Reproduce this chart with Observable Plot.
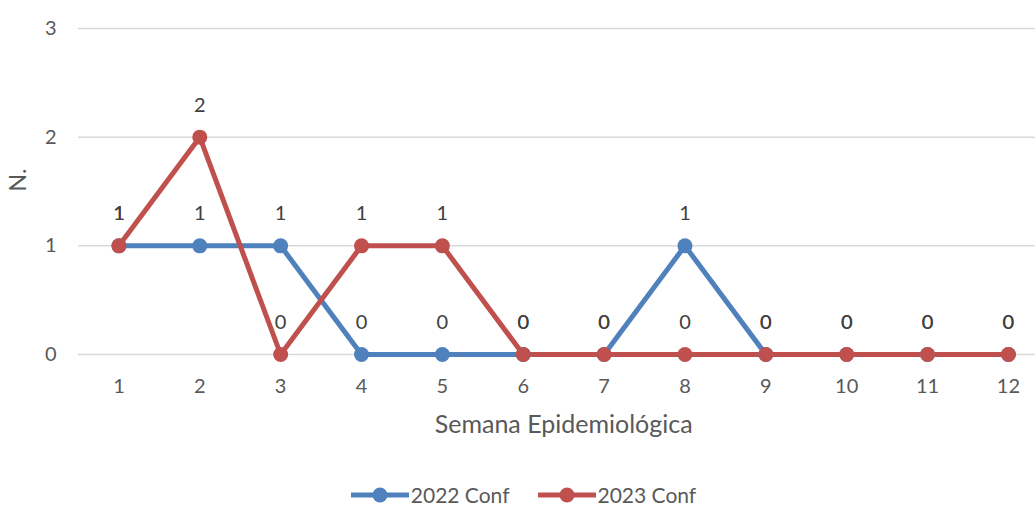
<!DOCTYPE html>
<html>
<head>
<meta charset="utf-8">
<script src="https://cdn.jsdelivr.net/npm/d3@7"></script>
<script src="https://cdn.jsdelivr.net/npm/@observablehq/plot@0.6"></script>
<style>
  html, body { margin: 0; padding: 0; background: #fff; }
  body { width: 1035px; height: 507px; overflow: hidden; font-family: Lato, "Open Sans", sans-serif; }
  #legend { display: flex; justify-content: center; align-items: center; gap: 28px; margin-top: 42px; font-size: 21px; color: #595959; padding-left: 12px; }
  #legend .item { display: flex; align-items: center; gap: 2px; }
</style>
</head>
<body>
<div id="chart"></div>
<div id="legend"></div>
<script>
const weeks = [1, 2, 3, 4, 5, 6, 7, 8, 9, 10, 11, 12];
const conf2022 = [1, 1, 1, 0, 0, 0, 0, 1, 0, 0, 0, 0];
const conf2023 = [1, 2, 0, 1, 1, 0, 0, 0, 0, 0, 0, 0];
const seriesNames = ["2022 Conf", "2023 Conf"];
const seriesColors = ["#4F81BD", "#C0504D"];
const yTicks = [0, 1, 2, 3];
const xLabel = "Semana Epidemiológica";
const yLabel = "N.";

const rows = [];
[conf2022, conf2023].forEach((vals, i) => {
  weeks.forEach((w, j) => rows.push({week: w, value: vals[j], series: seriesNames[i]}));
});

const chart = Plot.plot({
  width: 1035,
  height: 440,
  marginTop: 28,
  marginBottom: 86,
  marginLeft: 78,
  marginRight: 0,
  style: {fontFamily: "Lato, 'Open Sans', sans-serif", fontSize: "20px", color: "#595959", background: "#fff"},
  x: {domain: [0.5, 12.335]},
  y: {domain: [0, 3]},
  color: {domain: seriesNames, range: seriesColors},
  marks: [
    Plot.gridY(yTicks, {stroke: "#d9d9d9", strokeOpacity: 1, strokeWidth: 1.5}),
    Plot.axisY(yTicks, {tickSize: 0, tickPadding: 22, tickFormat: d3.format("d"), fill: "#595959", fontSize: 20, label: null}),
    Plot.text([yLabel], {frameAnchor: "left", dx: -60, rotate: -90, text: d => d, fill: "#595959", fontSize: 23}),
    Plot.axisX(weeks, {tickSize: 0, tickPadding: 24, tickFormat: d3.format("d"), fill: "#595959", fontSize: 20, label: null}),
    Plot.text([xLabel], {x: () => 6.5, frameAnchor: "bottom", dy: 78, text: d => d, fill: "#595959", fontSize: 25}),
    Plot.line(rows, {x: "week", y: "value", z: "series", stroke: "series", strokeWidth: 5}),
    Plot.dot(rows, {x: "week", y: "value", fill: "series", r: 7.5, stroke: "none"}),
    Plot.text(rows, {x: "week", y: "value", text: d => String(d.value), dy: -32, fill: "#404040", fontSize: 20})
  ]
});
document.getElementById("chart").appendChild(chart);

const legend = document.getElementById("legend");
seriesNames.forEach((name, i) => {
  const item = document.createElement("div");
  item.className = "item";
  item.innerHTML = `<svg width="58" height="16"><line x1="0" y1="8" x2="58" y2="8" stroke="${seriesColors[i]}" stroke-width="5"/><circle cx="29" cy="8" r="7.5" fill="${seriesColors[i]}"/></svg><span>${name}</span>`;
  legend.appendChild(item);
});
</script>
</body>
</html>
